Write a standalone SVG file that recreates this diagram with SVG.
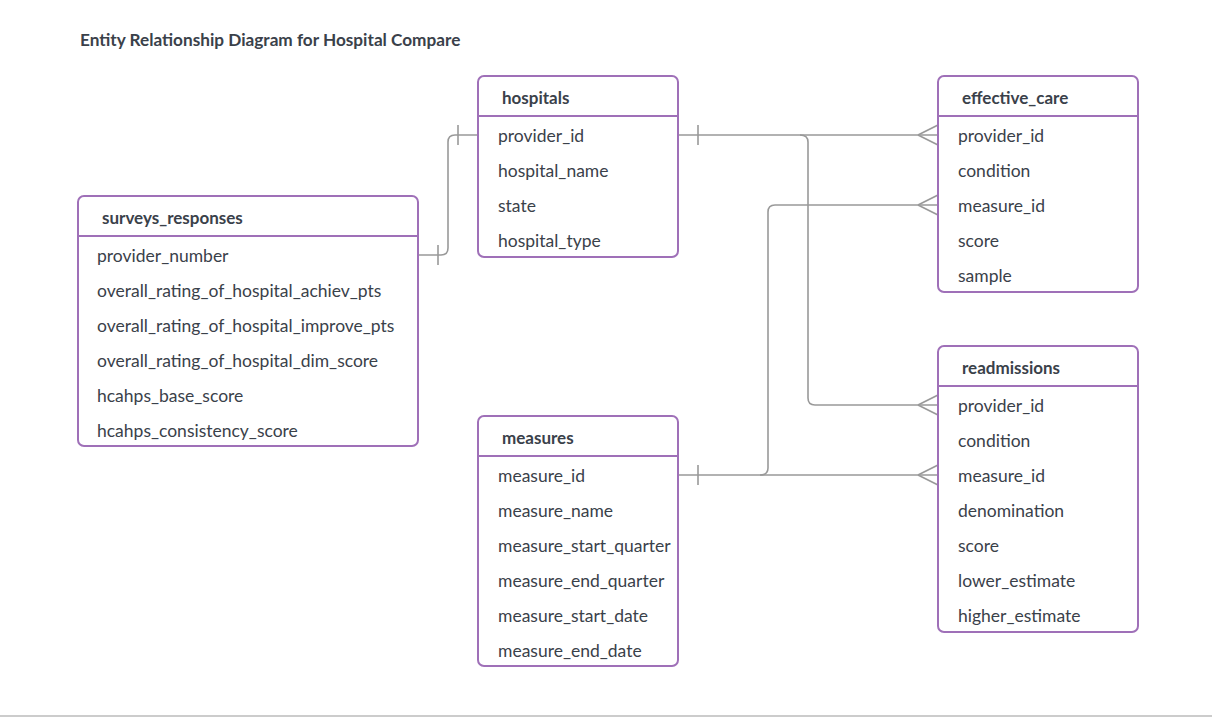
<svg xmlns="http://www.w3.org/2000/svg" width="1212" height="717" viewBox="0 0 1212 717">
<style>
.box{fill:#fff;stroke:#9f70b8;stroke-width:2}
.sep{stroke:#9f70b8;stroke-width:2}
.hdr{font-family:Lato,"Liberation Sans",sans-serif;font-size:17px;font-weight:bold;fill:#3a414a}
.row{font-family:Lato,"Liberation Sans",sans-serif;font-size:17.5px;fill:#3a414a}
.title{font-family:Lato,"Liberation Sans",sans-serif;font-size:17.2px;font-weight:bold;fill:#3a414a}
.c{fill:none;stroke:#999;stroke-width:1.6}
</style>
<rect width="1212" height="717" fill="#fff"/>
<text class="title" x="80" y="46">Entity Relationship Diagram for Hospital Compare</text>
<line x1="0" y1="716" x2="1212" y2="716" stroke="#ccc" stroke-width="2"/>

<g id="connectors">
<path class="c" d="M418,255 H441 Q448,255 448,248 V142 Q448,135 455,135 H478"/>
<line class="c" x1="438" y1="245" x2="438" y2="265"/>
<line class="c" x1="458" y1="125" x2="458" y2="145"/>
<path class="c" d="M678,135 H938"/>
<line class="c" x1="698" y1="125" x2="698" y2="145"/>
<path class="c" d="M918,135 L938,125 M918,135 L938,145"/>
<path class="c" d="M800,135 Q808,135 808,142 V398 Q808,405 815,405 H938"/>
<path class="c" d="M918,405 L938,395 M918,405 L938,415"/>
<path class="c" d="M678,475 H938"/>
<line class="c" x1="698" y1="465" x2="698" y2="485"/>
<path class="c" d="M918,475 L938,465 M918,475 L938,485"/>
<path class="c" d="M760,475 Q768,475 768,468 V212 Q768,205 775,205 H938"/>
<path class="c" d="M918,205 L938,195 M918,205 L938,215"/>
</g>

<g id="hospitals">
<rect class="box" x="478" y="76" width="200" height="181" rx="6"/>
<line class="sep" x1="478" y1="116" x2="678" y2="116"/>
<text class="hdr" x="502" y="104">hospitals</text>
<text class="row" x="498" y="142">provider_id</text>
<text class="row" x="498" y="177">hospital_name</text>
<text class="row" x="498" y="212">state</text>
<text class="row" x="498" y="247">hospital_type</text>
</g>

<g id="effective_care">
<rect class="box" x="938" y="76" width="200" height="216" rx="6"/>
<line class="sep" x1="938" y1="116" x2="1138" y2="116"/>
<text class="hdr" x="962" y="104">effective_care</text>
<text class="row" x="958" y="142">provider_id</text>
<text class="row" x="958" y="177">condition</text>
<text class="row" x="958" y="212">measure_id</text>
<text class="row" x="958" y="247">score</text>
<text class="row" x="958" y="282">sample</text>
</g>

<g id="surveys_responses">
<rect class="box" x="78" y="196" width="340" height="250" rx="6"/>
<line class="sep" x1="78" y1="236" x2="418" y2="236"/>
<text class="hdr" x="102" y="224">surveys_responses</text>
<text class="row" x="97" y="262">provider_number</text>
<text class="row" x="97" y="297">overall_rating_of_hospital_achiev_pts</text>
<text class="row" x="97" y="332">overall_rating_of_hospital_improve_pts</text>
<text class="row" x="97" y="367">overall_rating_of_hospital_dim_score</text>
<text class="row" x="97" y="402">hcahps_base_score</text>
<text class="row" x="97" y="437">hcahps_consistency_score</text>
</g>

<g id="measures">
<rect class="box" x="478" y="416" width="200" height="250" rx="6"/>
<line class="sep" x1="478" y1="456" x2="678" y2="456"/>
<text class="hdr" x="502" y="444">measures</text>
<text class="row" x="498" y="482">measure_id</text>
<text class="row" x="498" y="517">measure_name</text>
<text class="row" x="498" y="552">measure_start_quarter</text>
<text class="row" x="498" y="587">measure_end_quarter</text>
<text class="row" x="498" y="622">measure_start_date</text>
<text class="row" x="498" y="657">measure_end_date</text>
</g>

<g id="readmissions">
<rect class="box" x="938" y="346" width="200" height="286" rx="6"/>
<line class="sep" x1="938" y1="386" x2="1138" y2="386"/>
<text class="hdr" x="962" y="374">readmissions</text>
<text class="row" x="958" y="412">provider_id</text>
<text class="row" x="958" y="447">condition</text>
<text class="row" x="958" y="482">measure_id</text>
<text class="row" x="958" y="517">denomination</text>
<text class="row" x="958" y="552">score</text>
<text class="row" x="958" y="587">lower_estimate</text>
<text class="row" x="958" y="622">higher_estimate</text>
</g>
</svg>
